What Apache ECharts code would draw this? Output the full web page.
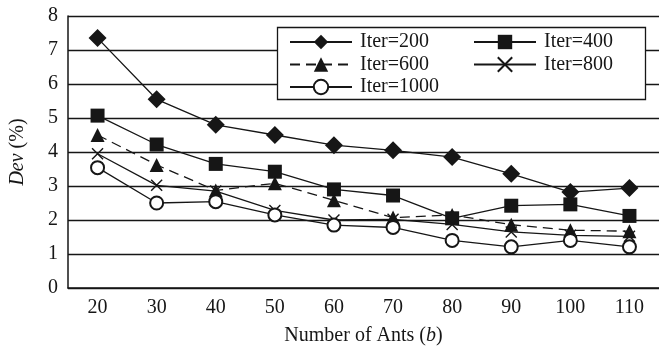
<!DOCTYPE html>
<html>
<head>
<meta charset="utf-8">
<style>
  html, body { margin: 0; padding: 0; background: #fff; }
  #main { width: 659px; height: 352px; }
</style>
<script src="https://cdn.jsdelivr.net/npm/echarts@6/dist/echarts.min.js"></script>
</head>
<body>
<div id="main"></div>
<script>
const antCounts = ['20', '30', '40', '50', '60', '70', '80', '90', '100', '110'];
const yTicks = [0, 8, 1]; // min, max, step

const iter200 = [7.35, 5.55, 4.8, 4.5, 4.2, 4.05, 3.85, 3.36, 2.82, 2.94];
const iter400 = [5.07, 4.22, 3.65, 3.42, 2.9, 2.72, 2.05, 2.42, 2.46, 2.12];
const iter600 = [4.5, 3.62, 2.87, 3.08, 2.58, 2.07, 2.15, 1.86, 1.7, 1.67];
const iter800 = [3.95, 3.02, 2.85, 2.28, 2.0, 2.02, 1.87, 1.65, 1.55, 1.52];
const iter1000 = [3.54, 2.5, 2.54, 2.15, 1.85, 1.78, 1.4, 1.21, 1.4, 1.21];

const INK = '#161616';
const FONT = '"Liberation Serif", "Times New Roman", serif';
const crossPath = 'path://M0,0L10,10M10,0L0,10';

function makeSeries(name, data, symbol, size, dashed) {
  const cross = symbol === crossPath;
  return {
    name: name,
    type: 'line',
    data: data,
    symbol: symbol,
    symbolSize: size,
    showAllSymbol: true,
    lineStyle: { color: INK, width: 1.3, type: dashed ? [10, 6] : 'solid' },
    itemStyle: {
      color: cross ? 'rgba(0,0,0,0)' : INK,
      borderColor: INK,
      borderWidth: cross ? 1.4 : (symbol === 'emptyCircle' ? 1.4 : 0)
    },
    emphasis: { disabled: true },
    animation: false
  };
}

const series = [
  makeSeries('Iter=200', iter200, 'diamond', 18, false),
  makeSeries('Iter=400', iter400, 'rect', 14, false),
  makeSeries('Iter=600', iter600, 'triangle', 14, true),
  makeSeries('Iter=800', iter800, crossPath, 11, false),
  makeSeries('Iter=1000', iter1000, 'emptyCircle', 13, false)
];

const legendText = { fontFamily: FONT, fontSize: 20, color: INK, lineHeight: 20, padding: [0, 0, 0, 3] };

const chart = echarts.init(document.getElementById('main'));
chart.setOption({
  animation: false,
  textStyle: { fontFamily: FONT },
  grid: { left: 67, top: 16, width: 594, bottom: 64 },
  graphic: [{
    type: 'rect',
    shape: { x: 277.5, y: 27.5, width: 368, height: 72 },
    style: { fill: '#fff', stroke: INK, lineWidth: 1.3 },
    z: 5
  }],
  legend: [
    {
      data: ['Iter=200', 'Iter=600', 'Iter=1000'],
      orient: 'vertical', left: 289, top: 32, padding: 0,
      itemWidth: 62, itemHeight: 18, itemGap: 2.5,
      textStyle: legendText, z: 10
    },
    {
      data: ['Iter=400', 'Iter=800'],
      orient: 'vertical', left: 473, top: 32, padding: 0,
      itemWidth: 62, itemHeight: 18, itemGap: 2.5,
      textStyle: legendText, z: 10
    }
  ],
  xAxis: {
    type: 'category',
    data: antCounts,
    boundaryGap: true,
    name: 'Number of Ants ({i|b})',
    nameLocation: 'middle',
    nameGap: 38,
    nameTextStyle: {
      fontFamily: FONT, fontSize: 20, color: INK,
      rich: { i: { fontFamily: FONT, fontSize: 20, fontStyle: 'italic', color: INK } }
    },
    axisLine: { lineStyle: { color: INK, width: 1.5 } },
    axisTick: { inside: true, length: 9, lineStyle: { color: INK, width: 1.5 } },
    axisLabel: { fontFamily: FONT, fontSize: 20, color: INK, margin: 10 },
    splitLine: { show: false }
  },
  yAxis: {
    type: 'value',
    min: yTicks[0], max: yTicks[1], interval: yTicks[2],
    name: '{i|Dev} (%)',
    nameLocation: 'middle',
    nameGap: 40,
    nameRotate: 90,
    nameTextStyle: {
      fontFamily: FONT, fontSize: 20, color: INK,
      rich: { i: { fontFamily: FONT, fontSize: 20, fontStyle: 'italic', color: INK } }
    },
    axisLine: { show: true, lineStyle: { color: INK, width: 1.5 } },
    axisTick: { show: false },
    axisLabel: { fontFamily: FONT, fontSize: 20, color: INK, margin: 10 },
    splitLine: { lineStyle: { color: INK, width: 1.3 } }
  },
  series: series
});
</script>
</body>
</html>
